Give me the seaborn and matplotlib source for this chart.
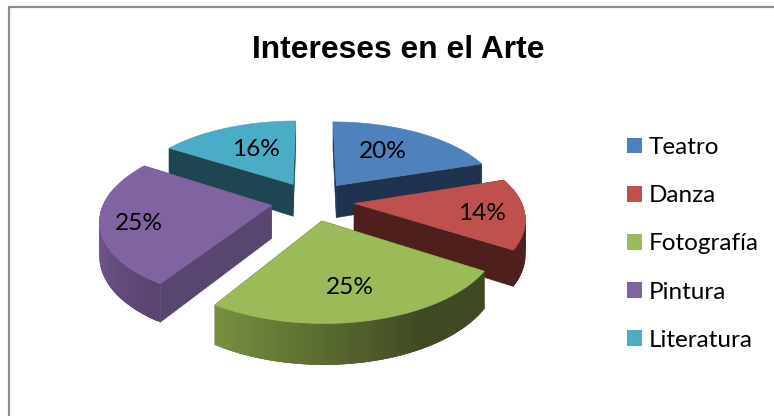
import numpy as np
import matplotlib
matplotlib.use("Agg")
import matplotlib.pyplot as plt
from matplotlib.patches import Patch
from matplotlib.colors import to_rgb
import seaborn as sns

categories = ["Teatro", "Danza", "Fotografía", "Pintura", "Literatura"]
values = [20, 14, 25, 25, 16]
title = "Intereses en el Arte"

top_colors = ["#4f81bd", "#c0504d", "#9bbb59", "#8064a2", "#4bacc6"]
wall_colors = ["#1f334f", "#4f1f1e", "#3f4a22", "#584570", "#1e4652"]
rim_start = ["#27405f", "#4f1f1e", "#3f4a22", "#5a4470", "#1e4652"]   # clockwise start of rim
rim_end = ["#27405f", "#4f1f1e", "#7a9441", "#7d6197", "#1e4652"]     # clockwise end of rim
shade_from = [0.0, 0.0, 0.3, 0.0, 0.0]
shade_to = [1.0, 1.0, 1.0, 0.75, 1.0]
label_xy = [(383, 152), (482, 214), (350, 287), (139, 224), (256, 150)]

sns.set_theme(style="white")
plt.rcParams["font.family"] = ["Lato", "DejaVu Sans"]
fig, ax = plt.subplots(figsize=(7.74, 4.16), dpi=100)
ax.set_position([0, 0, 1, 1])
ax.set_xlim(0, 774)
ax.set_ylim(416, 0)
ax.axis("off")

CX, CY, F, G, D, DEPTH, EXPLODE = 312.5, 201, 1030, 485, 6.17, 33, 0.25


def project(x, y):
    return CX + F * x / (D + y), CY - G * y / (D + y)


def drop(y):
    return DEPTH * D / (D + y)


def quad(p, q, color, z, lw=0.4):
    """Vertical wall between world points p and q."""
    x1, y1 = project(*p)
    x2, y2 = project(*q)
    ax.fill([x1, x2, x2, x1], [y1, y2, y2 + drop(q[1]), y1 + drop(p[1])],
            color=color, lw=lw, zorder=z)


fractions = np.array(values) / sum(values)
edges = np.concatenate([[0], np.cumsum(fractions)]) * 2 * np.pi
mids = (edges[:-1] + edges[1:]) / 2
draw_order = np.argsort(-np.cos(mids))

for rank, i in enumerate(draw_order):
    base = rank * 10
    ox, oy = EXPLODE * np.sin(mids[i]), EXPLODE * np.cos(mids[i])
    n = 120
    t = np.linspace(edges[i], edges[i + 1], n)
    wx, wy = ox + np.sin(t), oy + np.cos(t)
    apex = (ox, oy)
    # radial walls
    quad(apex, (wx[0], wy[0]), wall_colors[i], base + 1)
    quad(apex, (wx[-1], wy[-1]), wall_colors[i], base + 1)
    # curved rim, viewer-facing part only; overlapping strips hide the seams
    c0, c1 = np.array(to_rgb(rim_start[i])), np.array(to_rgb(rim_end[i]))
    visible = [k for k in range(n - 1) if np.cos(t[k]) < 0.2]
    for k in reversed(visible):
        f = k / (n - 1)
        s = np.clip((f - shade_from[i]) / (shade_to[i] - shade_from[i]), 0, 1)
        b = min(k + 3, n - 1)
        quad((wx[k], wy[k]), (wx[b], wy[b]), tuple(c0 + (c1 - c0) * s), base + 2, lw=0)
    # top surface
    px, py = project(np.r_[ox, wx], np.r_[oy, wy])
    ax.fill(px, py, color=top_colors[i], lw=0.4, zorder=base + 3)

for v, (x, y) in zip(values, label_xy):
    ax.text(x, y, f"{v}%", ha="center", va="center", fontsize=17.6, color="black", zorder=100)

ax.text(398, 49.5, title, ha="center", va="center", fontsize=22.9, fontweight="bold",
        family="Liberation Sans", color="black")

# chart frame: the right and bottom edges run off the picture
ax.plot([8.5, 8.5, 790], [430, 7, 7], color="#8c8c8c", lw=1.6, clip_on=True)

handles = [Patch(facecolor=c, edgecolor="none") for c in top_colors]
ax.legend(handles, categories, loc="upper left", bbox_to_anchor=(627 / 774, 1 - 137 / 416),
          frameon=False, fontsize=17.5, labelcolor="black", handlelength=0.62, handleheight=0.62,
          handletextpad=0.29, labelspacing=1.12, borderpad=0, borderaxespad=0)

fig.savefig("out.png", dpi=100)
